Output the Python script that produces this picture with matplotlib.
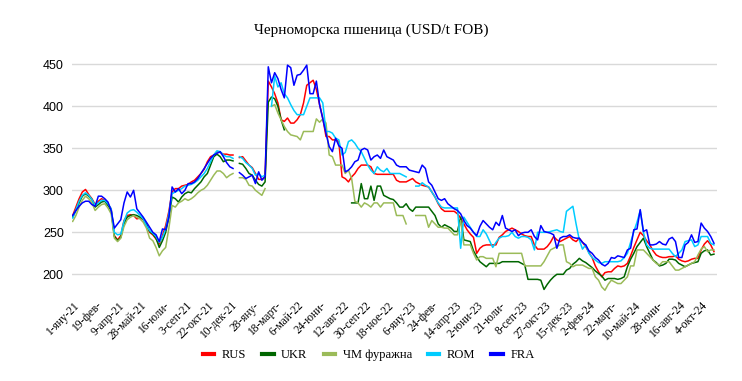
#load libraries
import numpy as np
import pandas as pd
import matplotlib
matplotlib.use('Agg')
import matplotlib.pyplot as plt
import matplotlib.transforms as mtransforms

nan = np.nan

#weekly prices USD/t FOB, from 1 Jan 2021 (week 51 = holiday gap)
rus = [270, 280, 290, 298, 301, 295, 290, 283, 287, 290, 288,
       283, 278, 246, 241, 246, 264, 270, 271, 270, 266,
       267, 265, 258, 250, 247, 242, 236, 246, 258, 275,
       298, 302, 302, 305, 306, 307, 310, 312, 316, 320,
       325, 334, 340, 342, 346, 345, 343, 343, 342, 342,
       nan,
       339, 340, 335, 330, 327, 320, 313, 313, 316,
       430, 423, 415, 404, 384, 382, 386, 380, 380, 384,
       390, 404, 425, 428, 431, 420, 402, 386, 364, 364,
       360, 360, 358, 316, 314, 310, 316, 320, 326, 330,
       330, 330, 328, 320, 319, 319, 319, 319, 319, 319,
       312, 310, 310, 310, 312, 314, 310, 308, 306, 305,
       304, 298, 292, 284, 278, 275, 275, 275, 275, 272,
       267, 260, 253, 248, 244, 225, 231, 234, 235, 235,
       235, 235, 244, 247, 251, 253, 255, 253, 251, 248,
       246, 245, 245, 235, 230, 230, 230, 233, 238, 245,
       241, 239, 241, 243, 245, 241, 239, 243, 238, 233,
       226, 220, 210, 203, 197, 202, 203, 203, 207, 210,
       209, 210, 213, 222, 232, 241, 250, 246, 240, 235,
       228, 223, 221, 220, 220, 221, 221, 222, 218, 216,
       215, 216, 218, 219, 219, 229, 236, 240, 235, 227]

ukr = [268, 276, 285, 293, 296, 293, 289, 280, 283, 286, 287,
       282, 276, 245, 240, 244, 260, 268, 270, 271, 270,
       268, 266, 260, 251, 248, 243, 232, 240, 250, 268,
       292, 290, 286, 292, 296, 298, 297, 302, 306, 310,
       316, 320, 330, 340, 343, 340, 334, 336, 336, 335,
       nan,
       332, 331, 326, 320, 318, 312, 307, 305, 310,
       405, 411, 409, 400, 384, 372, nan, nan, nan, nan,
       nan, nan, nan, nan, nan, nan, nan, nan, nan, nan,
       nan, nan, nan, nan, nan, nan, 285, 285, 285, 308,
       290, 290, 305, 288, 305, 305, 294, 292, 290, 289,
       285, 280, 280, 284, 278, 275, 280, 280, 280, 280,
       280, 275, 270, 260, 256, 259, 257, 255, 251, 251,
       268, 241, 240, 239, 228, 221, 215, 212, 209, 213,
       213, 213, 213, 215, 215, 215, 215, 215, 215, 213,
       211, 194, 194, 194, 194, 193, 182, 188, 193, 197,
       200, 200, 200, 205, 207, 212, 215, 219, 216, 214,
       211, 208, 204, 201, 198, 193, 195, 195, 195, 194,
       195, 197, 209, 218, 225, 233, 238, 243, 233, 225,
       217, 214, 210, 211, 213, 218, 218, 217, 213, 211,
       209, 211, 213, 214, 215, 225, 228, 229, 223, 224]

feed = [263, 270, 280, 288, 293, 290, 285, 276, 280, 283, 284,
        279, 272, 243, 239, 243, 257, 265, 268, 270, 268,
        266, 262, 255, 243, 240, 232, 222, 228, 232, 255,
        282, 280, 285, 287, 290, 288, 290, 293, 297, 300,
        302, 306, 312, 318, 323, 323, 320, 315, 318, 320,
        nan,
        315, 315, 313, 306, 305, 300, 297, 294, 302,
        nan, 400, 402, 392, 384, 376, 370, 366, 365, 364,
        360, 370, 370, 370, 370, 385, 381, 385, 380, 342,
        340, 330, 330, 330, 320, 324, 314, 287, 285, 280,
        285, 283, 280, 285, 285, 280, 285, 285, 285, 285,
        270, 270, 270, 260, nan, nan, 270, 270, 270, 270,
        256, 264, 260, 256, 256, 255, 255, 251, 247, 247,
        264, 235, 235, 235, 225, 217, 221, 221, 219, 219,
        219, 209, 225, 225, 225, 225, 225, 225, 225, 225,
        210, 210, 210, 210, 210, 210, 215, 222, 229, 231,
        233, 235, 235, 215, 213, 209, 211, 211, 211, 209,
        207, 207, 197, 193, 185, 181, 188, 193, 191, 189,
        189, 193, 197, 210, 210, 229, 229, 229, 225, 221,
        217, 213, 211, 215, 215, 215, 210, 205, 205, 207,
        209, 211, 213, 215, 223, 230, 233, 227, 229, 229]

rom = [267, 277, 287, 294, 297, 294, 289, 282, 285, 288, 288,
       284, 278, 250, 247, 248, 263, 273, 276, 277, 274,
       270, 266, 258, 252, 249, 245, 238, 244, 254, 272,
       296, 298, 300, 302, 305, 306, 307, 309, 312, 316,
       320, 326, 334, 342, 347, 346, 342, 340, 340, 338,
       nan,
       340, 338, 333, 330, 326, 318, 320, 316, 318,
       nan, 400, 436, 423, 428, 415, 410, 402, 395, 390,
       390, 390, 400, 410, 410, 410, 410, 404, 370, 370,
       368, 362, 360, 342, 345, 358, 360, 356, 350, 346,
       338, 330, 324, 320, 328, 324, 322, 326, 320, 320,
       320, 320, 318, 316, nan, nan, 305, 305, 309, 306,
       304, 298, 292, 285, 280, 279, 279, 279, 279, 279,
       231, 268, 262, 256, 250, 245, 245, 253, 248, 240,
       232, 238, 243, 245, 245, 246, 250, 245, 243, 245,
       245, 244, 241, 229, 250, 250, 250, 250, 251, 252,
       253, 251, 250, 275, 278, 281, 260, 241, 230, 235,
       225, 220, 217, 214, 213, 215, 215, 215, 215, 215,
       216, 220, 225, 238, 251, 262, 276, 250, 235, 231,
       230, 230, 230, 230, 230, 230, 225, 221, 225, 229,
       239, 240, 241, 233, 235, 245, 245, 245, 237, 235]

fra = [270, 276, 281, 285, 287, 287, 283, 281, 293, 293, 290,
       286, 276, 255, 260, 265, 285, 298, 292, 300, 278,
       273, 268, 262, 256, 250, 247, 239, 254, 253, 268,
       304, 298, 302, 296, 300, 308, 308, 310, 314, 320,
       326, 332, 338, 342, 344, 346, 340, 333, 328, 326,
       nan,
       321, 318, 314, 316, 318, 308, 322, 312, 316,
       447, 428, 440, 433, 420, 410, 449, 446, 425, 437,
       438, 443, 449, 415, 415, 430, 402, 385, 368, 352,
       346, 362, 353, 350, 322, 324, 328, 334, 336, 348,
       350, 348, 336, 340, 342, 338, 348, 340, 338, 336,
       330, 328, 328, 328, 324, 323, 322, 321, 330, 326,
       310, 306, 298, 290, 288, 290, 284, 281, 278, 276,
       272, 264, 258, 255, 250, 246, 257, 264, 260, 256,
       253, 262, 258, 270, 255, 253, 251, 253, 246, 249,
       250, 250, 253, 245, 241, 258, 251, 250, 249, 247,
       231, 243, 245, 245, 247, 244, 243, 243, 238, 235,
       228, 225, 220, 217, 212, 210, 213, 220, 219, 222,
       221, 220, 229, 231, 253, 254, 277, 251, 253, 235,
       235, 236, 239, 236, 235, 242, 244, 239, 220, 220,
       235, 238, 247, 238, 239, 261, 255, 251, 245, 237]

names = ['RUS', 'UKR', 'ЧМ фуражна', 'ROM', 'FRA']
colors = ['#FF0000', '#006600', '#9BBB59', '#00CCFF', '#0000FF']

#x tick labels every 7 weeks (as shown, some are cut)
tick_labels = ['1-яну-21', '19-фев-', '9-апр-21', '28-май-21', '16-юли-',
               '3-сеп-21', '22-окт-21', '10-дек-21', '28-яну-', '18-март-',
               '6-май-22', '24-юни-', '12-авг-22', '30-сеп-22', '18-ное-22',
               '6-яну-23', '24-фев-', '14-апр-23', '2-юни-23', '21-юли-',
               '8-сеп-23', '27-окт-23', '15-дек-23', '2-фев-24', '22-март-',
               '10-май-24', '28-юни-', '16-авг-24', '4-окт-24']

dates = pd.date_range('2021-01-01', periods=len(rus), freq='7D')

#Figure & axes
fig = plt.figure(figsize=(7.42, 3.81), dpi=100)
ax = fig.add_axes([0.0971, 0.2315, 0.869, 0.6042])

#Graph
for vals, name, color in zip([rus, ukr, feed, rom, fra], names, colors):
    ax.plot(dates, vals, color=color, linewidth=1.1, label=name)

#Limits and ticks
ax.set_ylim(178, 452)
ax.set_yticks([200, 250, 300, 350, 400, 450])
ax.set_xlim(dates[0] - pd.Timedelta(days=1.4), dates[-1] + pd.Timedelta(days=6.3))
ax.set_xticks(dates[::7])
ax.set_xticklabels(tick_labels, rotation=45, ha='right', va='center',
                   rotation_mode='anchor', fontsize=8.3, family='Liberation Serif')
ax.tick_params(axis='both', length=0)
ax.tick_params(axis='x', pad=8)
ax.tick_params(axis='y', pad=6, labelsize=9)
for lab in ax.get_yticklabels():
    lab.set_family('Liberation Sans')
offset = mtransforms.ScaledTranslation(0.05, 0, fig.dpi_scale_trans)
for lab in ax.get_xticklabels():
    lab.set_transform(lab.get_transform() + offset)

#Grid and spines
ax.yaxis.grid(True, color='#D9D9D9', linewidth=1.0)
ax.set_axisbelow(True)
for s in ax.spines.values():
    s.set_visible(False)

#Title
fig.text(0.5, 1 - 30 / 381, 'Черноморска пшеница (USD/t FOB)', ha='center', va='center',
         fontsize=11, family='Liberation Serif')

#Legend
leg = fig.legend(loc='center', bbox_to_anchor=(0.497, 0.068), ncol=5, frameon=False,
                 prop={'family': 'Liberation Serif', 'size': 9},
                 handlelength=0.9, handletextpad=0.6, columnspacing=1.3)
for line in leg.get_lines():
    line.set_linewidth(3)

fig.savefig('out.png', dpi=100)
